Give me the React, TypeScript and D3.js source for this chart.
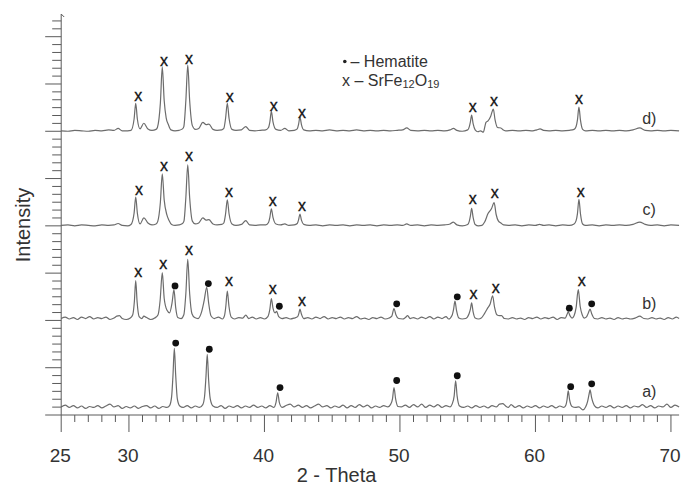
import React from "react";
import * as d3 from "d3";

// ---- data (2θ in degrees, intensity in arbitrary units above each pattern's baseline) ----
const seriesNames = ["a)", "b)", "c)", "d)"];
const seriesOffsets = [1.4, 20.2, 40.0, 60.0];
const seriesLabelY = [5.1, 23.7, 43.6, 62.8];

const traceA: [number, number][] = [
  [25.0,0.3],[25.3,0.7],[25.6,0.2],[25.9,0.6],[26.2,0.1],[26.5,0.5],[26.8,0.0],[27.1,0.4],[27.4,0.2],[27.7,0.6],[28.0,0.1],[28.3,0.5],[28.6,0.9],[28.9,0.3],[29.2,0.6],[29.5,0.0],[29.8,0.4],[30.1,0.1],[30.4,0.5],[30.7,0.0],[31.0,0.4],[31.3,0.6],[31.6,0.1],[31.9,0.5],[32.2,0.0],[32.5,0.4],[32.8,0.2],[33.0,0.6],
  [33.15,2.5],[33.25,7.0],[33.35,12.7],[33.45,7.0],[33.57,2.0],[33.75,0.5],[34.0,0.2],[34.3,0.6],[34.6,0.1],[34.9,0.5],[35.2,0.2],[35.45,0.8],
  [35.58,2.5],[35.68,6.5],[35.78,11.4],[35.88,6.0],[36.0,2.0],[36.2,0.5],[36.5,0.2],[36.8,0.6],[37.1,0.0],[37.4,0.5],[37.7,0.2],[38.0,0.6],[38.3,0.1],[38.6,0.5],[38.9,0.2],[39.2,0.7],[39.5,0.2],[39.8,0.5],[40.1,0.1],[40.4,0.6],[40.7,0.2],
  [40.85,1.2],[40.98,3.3],[41.1,1.2],[41.3,0.2],[41.6,0.6],[41.9,0.9],[42.2,0.3],[42.5,0.7],[42.8,0.2],[43.1,0.6],[43.4,0.1],[43.7,0.5],[44.0,0.9],[44.3,0.3],[44.6,0.6],[44.9,0.1],[45.2,0.5],[45.5,0.2],[45.8,0.7],[46.1,0.1],[46.4,0.6],[46.7,0.2],[47.0,0.8],[47.3,0.3],[47.6,0.7],[47.9,0.1],[48.2,0.5],[48.5,0.2],[48.8,0.6],[49.1,0.3],[49.3,0.8],
  [49.45,2.0],[49.56,4.4],[49.68,2.0],[49.85,0.4],[50.1,0.3],[50.4,0.7],[50.7,0.2],[51.0,0.8],[51.3,0.3],[51.6,0.9],[51.9,0.2],[52.2,0.7],[52.5,0.3],[52.8,0.8],[53.1,0.2],[53.4,0.6],[53.7,0.3],[53.85,0.9],
  [54.0,2.6],[54.11,5.8],[54.22,2.6],[54.4,0.5],[54.7,0.2],[55.0,0.5],[55.3,0.1],[55.6,0.6],[55.9,0.2],[56.2,0.5],[56.5,0.1],[56.8,0.6],[57.1,0.3],[57.35,0.9],[57.58,1.0],[57.8,0.5],[58.0,0.2],[58.2,0.8],[58.5,0.2],[58.8,0.6],[59.1,0.1],[59.4,0.5],[59.7,0.2],[60.0,0.6],[60.3,0.1],[60.6,0.5],[60.9,0.2],[61.2,0.6],[61.5,0.1],[61.8,0.5],[62.1,0.2],[62.25,0.7],
  [62.33,1.8],[62.42,3.7],[62.52,1.8],[62.7,0.4],[62.95,0.2],[63.2,0.3],[63.5,-0.3],[63.7,0.3],[63.85,1.5],[63.95,2.9],[64.03,3.9],[64.15,2.2],[64.35,0.6],[64.6,0.1],[64.9,0.5],[65.2,0.2],[65.5,0.6],[65.8,0.1],[66.1,0.5],[66.4,0.2],[66.7,0.6],[67.0,0.1],[67.3,0.5],[67.6,0.3],[67.9,0.8],[68.2,0.2],[68.5,0.6],[68.8,0.1],[69.1,0.5],[69.4,0.3],[69.7,0.9],[70.0,0.2],[70.3,0.7],[70.6,0.3],
];

const traceB: [number, number][] = [
  [25.0,0.2],[25.3,0.5],[25.6,0.1],[25.9,0.4],[26.2,0.0],[26.5,0.5],[26.8,0.2],[27.1,0.6],[27.4,0.1],[27.7,0.4],[28.0,0.2],[28.3,0.5],[28.6,0.0],[28.9,0.3],[29.1,0.7],[29.3,0.8],[29.5,0.2],[29.8,0.0],[30.1,0.3],[30.28,1.0],
  [30.4,3.8],[30.5,8.2],[30.6,3.8],[30.75,0.6],[30.95,0.2],[31.1,0.7],[31.3,0.4],[31.6,0.0],[31.9,0.3],[32.15,1.0],
  [32.3,4.0],[32.46,9.9],[32.6,4.5],[32.8,2.0],[33.0,1.4],
  [33.18,3.5],[33.32,6.3],[33.45,2.5],[33.6,0.4],[33.85,0.2],[34.05,1.0],
  [34.2,5.5],[34.34,12.7],[34.48,5.5],[34.65,1.2],[34.85,0.4],[35.1,0.2],[35.35,1.5],[35.55,4.0],
  [35.74,6.8],[35.88,3.5],[36.05,0.8],[36.3,0.2],[36.6,0.5],[36.9,0.1],[37.05,0.8],
  [37.15,2.8],[37.26,6.0],[37.38,2.8],[37.55,0.5],[37.8,0.1],[38.1,0.4],[38.4,0.3],[38.62,0.9],[38.85,0.2],[39.1,0.5],[39.4,0.1],[39.7,0.4],[40.0,0.1],[40.25,0.6],
  [40.4,2.2],[40.51,4.4],[40.63,2.4],[40.78,1.4],[40.9,1.7],[41.05,0.6],[41.3,0.2],[41.6,0.4],[41.9,0.1],[42.2,0.3],[42.45,0.6],
  [42.55,1.4],[42.62,2.2],[42.72,1.2],[42.9,0.2],[43.2,0.4],[43.5,0.1],[43.8,0.5],[44.1,0.2],[44.4,0.6],[44.7,0.1],[45.0,0.4],[45.3,0.2],[45.6,0.5],[45.9,0.1],[46.2,0.4],[46.5,0.2],[46.8,0.6],[47.1,0.1],[47.4,0.3],[47.7,0.0],[48.0,0.4],[48.3,0.2],[48.6,0.5],[48.9,0.1],[49.2,0.3],[49.4,0.7],
  [49.56,2.3],[49.7,1.0],[49.9,0.2],[50.2,0.1],[50.4,0.4],[50.57,0.8],[50.75,0.2],[51.0,0.4],[51.3,0.1],[51.6,0.5],[51.9,0.2],[52.2,0.6],[52.5,0.1],[52.8,0.5],[53.1,0.2],[53.4,0.6],[53.6,0.1],[53.85,0.9],
  [53.96,2.2],[54.06,3.9],[54.17,2.0],[54.35,0.3],[54.6,0.1],[54.85,0.2],[55.1,1.2],[55.2,2.2],[55.29,3.5],[55.4,1.6],[55.55,0.3],[55.8,0.1],[56.0,0.3],[56.25,1.3],[56.45,2.3],[56.65,3.2],[56.84,5.0],[56.98,2.6],[57.15,1.0],[57.35,0.8],[57.5,0.8],[57.7,0.2],[58.0,0.1],[58.3,0.4],[58.6,0.1],[58.9,0.3],[59.2,0.0],[59.5,0.4],[59.8,0.2],[60.1,0.5],[60.4,0.1],[60.7,0.4],[61.0,0.2],[61.3,0.5],[61.6,0.0],[61.9,0.4],[62.2,0.3],
  [62.32,1.0],[62.42,1.6],[62.55,0.8],[62.7,0.3],[62.85,0.8],[63.0,2.5],[63.16,6.3],[63.3,2.8],[63.45,1.0],[63.6,0.3],[63.75,0.5],[63.88,1.2],[64.03,2.2],[64.15,1.2],[64.35,0.2],[64.6,0.1],[64.9,0.4],[65.2,0.1],[65.5,0.3],[65.8,0.0],[66.1,0.4],[66.4,0.1],[66.7,0.3],[67.0,0.1],[67.35,0.3],[67.7,0.7],[68.0,0.2],[68.3,0.1],[68.6,0.4],[68.9,0.1],[69.2,0.3],[69.5,0.0],[69.8,0.4],[70.1,0.1],[70.4,0.5],[70.6,0.2],
];

const traceC: [number, number][] = [
  [25.0,0.1],[25.5,0.2],[26.0,0.0],[26.5,0.2],[27.0,0.1],[27.5,0.0],[28.0,0.2],[28.5,0.1],[28.9,0.2],[29.2,0.5],[29.5,0.1],[29.9,0.0],[30.15,0.3],
  [30.38,2.7],[30.5,6.1],[30.62,2.7],[30.82,0.4],[31.1,1.7],[31.4,0.6],[31.7,0.2],[32.0,0.4],[32.12,0.9],[32.32,5.0],[32.46,11.0],[32.6,5.5],[32.8,2.3],[32.95,1.2],[33.15,0.3],[33.4,0.1],[33.7,0.2],[33.95,0.5],
  [34.06,1.0],[34.2,6.0],[34.34,12.9],[34.48,6.0],[34.68,1.0],[34.9,0.4],[35.15,0.6],[35.45,1.7],[35.7,1.2],[35.9,1.3],[36.2,0.4],[36.5,0.2],[36.85,0.3],
  [37.0,0.6],[37.13,2.5],[37.26,5.5],[37.39,2.5],[37.6,0.4],[37.9,0.1],[38.3,0.3],[38.62,1.1],[38.9,0.2],[39.3,0.1],[39.7,0.2],[40.1,0.2],
  [40.3,0.7],[40.4,1.8],[40.51,3.6],[40.63,1.8],[40.85,0.4],[41.2,0.2],[41.5,0.4],[41.8,0.1],[42.2,0.2],[42.42,0.5],[42.52,1.3],[42.62,2.5],[42.73,1.2],[42.9,0.3],
  [43.3,0.1],[43.8,0.2],[44.3,0.0],[44.8,0.2],[45.3,0.1],[45.8,0.2],[46.3,0.0],[46.8,0.2],[47.3,0.1],[47.8,0.2],[48.3,0.0],[48.8,0.2],[49.3,0.1],[49.8,0.2],[50.2,0.1],[50.5,0.4],[50.8,0.1],[51.3,0.2],[51.8,0.0],[52.3,0.2],[52.8,0.1],[53.3,0.2],[53.7,0.4],[53.94,0.8],[54.2,0.2],[54.6,0.0],[55.0,0.3],
  [55.12,1.0],[55.2,2.1],[55.29,3.7],[55.4,1.8],[55.55,0.3],[55.8,0.0],[56.05,0.1],[56.25,0.8],[56.5,2.6],[56.75,3.6],[56.95,4.9],[57.1,2.4],[57.25,1.1],[57.45,0.6],[57.65,0.2],
  [58.0,0.1],[58.5,0.2],[59.0,0.0],[59.5,0.2],[60.0,0.1],[60.3,0.3],[60.6,0.1],[61.0,0.2],[61.5,0.0],[62.0,0.2],[62.5,0.1],[62.85,0.4],
  [63.0,1.1],[63.1,2.6],[63.21,5.6],[63.32,2.6],[63.48,0.4],[63.7,0.1],[64.2,0.2],[64.7,0.0],[65.2,0.2],[65.7,0.1],[66.2,0.2],[66.7,0.1],[67.2,0.3],[67.7,0.8],[68.1,0.3],[68.5,0.1],[69.0,0.2],[69.5,0.0],[70.0,0.2],[70.6,0.1],
];

const traceD: [number, number][] = [
  [25.0,0.1],[25.5,0.0],[26.0,0.2],[26.5,0.1],[27.0,0.0],[27.5,0.2],[28.0,0.1],[28.5,0.3],[28.9,0.2],[29.2,0.6],[29.5,0.1],[29.9,0.1],
  [30.15,0.2],[30.38,2.6],[30.5,5.9],[30.62,2.6],[30.82,0.5],[31.1,1.7],[31.4,0.5],[31.7,0.2],[32.0,0.4],
  [32.1,0.8],[32.32,6.0],[32.46,13.6],[32.6,6.5],[32.75,2.8],[32.9,1.5],[33.1,0.3],[33.4,0.1],[33.7,0.2],[33.95,0.5],
  [34.05,1.0],[34.2,6.5],[34.34,14.0],[34.48,6.5],[34.68,1.2],[34.9,0.4],[35.15,0.6],[35.45,1.9],[35.7,1.4],[35.9,1.5],[36.2,0.4],[36.5,0.2],[36.85,0.3],
  [37.0,0.6],[37.13,2.7],[37.26,5.9],[37.39,2.7],[37.6,0.4],[37.9,0.2],[38.3,0.3],[38.62,1.0],[38.9,0.2],[39.3,0.1],[39.7,0.2],[40.1,0.3],
  [40.3,0.8],[40.4,2.0],[40.51,4.2],[40.63,2.0],[40.85,0.4],[41.2,0.2],[41.5,0.6],[41.8,0.1],[42.2,0.2],
  [42.42,0.5],[42.52,1.5],[42.62,3.0],[42.73,1.4],[42.9,0.3],[43.3,0.1],[43.8,0.2],[44.3,0.1],[44.8,0.3],[45.3,0.1],[45.8,0.2],[46.3,0.1],[46.8,0.3],[47.3,0.1],[47.8,0.2],[48.3,0.1],[48.8,0.2],[49.3,0.1],[49.8,0.2],[50.2,0.3],[50.5,0.7],[50.8,0.2],[51.3,0.1],[51.8,0.2],[52.3,0.1],[52.8,0.2],[53.3,0.1],[53.7,0.3],[53.95,0.6],[54.2,0.2],[54.6,0.0],[55.0,0.3],
  [55.12,1.0],[55.2,2.0],[55.29,3.4],[55.4,1.6],[55.55,0.3],[55.75,-0.1],[55.95,0.1],[56.15,-0.2],[56.35,1.9],[56.5,2.2],[56.7,3.2],[56.89,4.7],[57.02,2.4],[57.2,0.8],[57.45,0.7],[57.6,0.3],
  [57.8,0.1],[58.3,0.2],[58.8,0.1],[59.3,0.2],[59.8,0.1],[60.1,0.3],[60.34,0.5],[60.6,0.2],[61.0,0.1],[61.5,0.2],[62.0,0.1],[62.5,0.2],[62.85,0.4],
  [63.0,1.0],[63.1,2.4],[63.21,5.1],[63.32,2.4],[63.48,0.4],[63.7,0.1],[64.2,0.2],[64.7,0.1],[65.2,0.2],[65.7,0.1],[66.2,0.2],[66.7,0.1],[67.2,0.3],[67.7,0.7],[68.1,0.2],[68.5,0.1],[69.0,0.2],[69.5,0.1],[70.0,0.2],[70.6,0.1],
];

const traces = [traceA, traceB, traceC, traceD];

// markers: [2θ, absolute intensity]
const srFeMarks: [number, number][] = [
  [30.69,67.4],[32.59,74.7],[34.43,75.2],[37.44,67.2],[40.68,65.2],[42.77,63.8],[55.37,64.9],[56.94,66.2],[63.22,66.6],
  [30.74,47.4],[32.59,52.5],[34.43,54.6],[37.38,47.1],[40.61,45.2],[42.77,44.0],[55.37,45.5],[57.0,46.7],[63.34,47.1],
  [30.69,30.1],[32.54,31.7],[34.43,34.7],[37.38,28.1],[40.61,26.6],[42.77,24.0],[55.42,25.4],[57.07,26.8],[63.42,28.2],
];
const hematiteMarks: [number, number][] = [
  [33.4,27.3],[35.86,27.8],[41.1,23.0],[49.76,23.5],[54.23,25.0],[62.5,22.6],[64.15,23.5],
  [33.45,15.2],[35.93,13.9],[41.15,5.8],[49.76,7.3],[54.23,8.3],[62.6,6.0],[64.15,6.6],
];

const xMajorTicks = [25, 30, 40, 50, 60, 70];
const xTitle = "2 - Theta";
const yTitle = "Intensity";

const FONT = "'Liberation Sans', Arial, Helvetica, sans-serif";

export default function App() {
  const W = 681, H = 487;
  const x = d3.scaleLinear().domain([25, 70.6]).range([61.2, 61.2 + 13.55 * 45.6]);
  const y = d3.scaleLinear().domain([0, 84.8]).range([415, 14]);

  const xMinor = d3.range(25, 71, 1).filter((v) => !xMajorTicks.includes(v));
  const yMajor = d3.range(0, 81, 10);
  const yMinor = d3.range(0, 84.5, 10 / 6).filter((v) => Math.abs(v / 10 - Math.round(v / 10)) > 0.01);

  const axisColor = "#5a5a5a";
  const traceColor = "#6c6c6c";
  const x0 = x(25);
  const yb = y(0);

  return (
    <svg width={W} height={H} style={{ position: "absolute", left: 0, top: 0, background: "#fff" }} fontFamily={FONT}>
      <rect x={0} y={0} width={W} height={H} fill="#fff" />
      {/* traces */}
      {traces.map((tr, i) => {
        const line = d3
          .line<[number, number]>()
          .x((d) => x(d[0]))
          .y((d) => y(d[1] + seriesOffsets[i]))
          .curve(d3.curveMonotoneX);
        return <path key={i} d={line(tr) || ""} fill="none" stroke={traceColor} strokeWidth={1.2} strokeLinejoin="round" />;
      })}

      {/* axes */}
      <line x1={x0} x2={x(70.6)} y1={yb} y2={yb} stroke={axisColor} strokeWidth={1} />
      <line x1={x0} x2={x0} y1={yb} y2={y(84.8)} stroke={axisColor} strokeWidth={1} />
      <line x1={x0} x2={x0 + 3} y1={y(84.8)} y2={y(84.8) + 3} stroke={axisColor} strokeWidth={1} />
      {xMinor.map((v) => (
        <line key={"xm" + v} x1={x(v)} x2={x(v)} y1={yb} y2={yb + 7} stroke={axisColor} strokeWidth={1} />
      ))}
      {xMajorTicks.map((v) => (
        <g key={"xM" + v}>
          <line x1={x(v)} x2={x(v)} y1={yb} y2={yb + 17} stroke={axisColor} strokeWidth={1} />
          <text x={x(v) - 1} y={461.5} textAnchor="middle" fontSize={19} fill="#333">
            {v}
          </text>
        </g>
      ))}
      {yMinor.map((v, k) => (
        <line key={"ym" + k} x1={x0 - 9} x2={x0} y1={y(v)} y2={y(v)} stroke={axisColor} strokeWidth={1} />
      ))}
      {yMajor.map((v) => (
        <line key={"yM" + v} x1={x0 - 16} x2={x0} y1={y(v)} y2={y(v)} stroke={axisColor} strokeWidth={1} />
      ))}

      {/* axis titles */}
      <text x={336.5} y={481.5} textAnchor="middle" fontSize={20} fill="#333">
        {xTitle}
      </text>
      <text transform="translate(30,225) rotate(-90)" textAnchor="middle" fontSize={20} fill="#333">
        {yTitle}
      </text>

      {/* phase markers */}
      {srFeMarks.map((m, k) => (
        <text key={"x" + k} x={x(m[0])} y={y(m[1])} dy="0.27em" textAnchor="middle" fontSize={16} fill="#111" stroke="#111" strokeWidth={0.3}>
          x
        </text>
      ))}
      {hematiteMarks.map((m, k) => (
        <circle key={"h" + k} cx={x(m[0])} cy={y(m[1])} r={3.4} fill="#111" />
      ))}

      {/* series labels */}
      {seriesNames.map((s, i) => (
        <text key={s} x={x(68.4)} y={y(seriesLabelY[i])} dy="0.36em" textAnchor="middle" fontSize={16} fill="#333">
          {s}
        </text>
      ))}

      {/* legend */}
      <circle cx={344.8} cy={61.5} r={1.8} fill="#222" />
      <text x={350.5} y={66.7} fontSize={16} fill="#333">
        {"– Hematite"}
      </text>
      <text x={342} y={86} fontSize={16} fill="#333">
        {"x – SrFe"}
        <tspan fontSize={11} dy={2}>12</tspan>
        <tspan dy={-2}>O</tspan>
        <tspan fontSize={11} dy={2}>19</tspan>
      </text>
    </svg>
  );
}
